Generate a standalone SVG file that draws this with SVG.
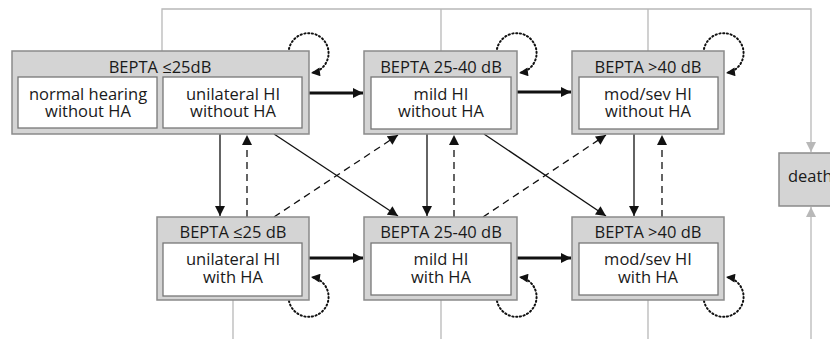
<svg xmlns="http://www.w3.org/2000/svg" width="830" height="339" viewBox="0 0 830 339">
<defs>
<style>
.outer{fill:#d4d4d4;stroke:#8a8a8a;stroke-width:1.5}
.inner{fill:#fff;stroke:#777;stroke-width:1.3}
text{font-family:"Open Sans","Liberation Sans",Arial,sans-serif;font-size:16.5px;fill:#1a1a1a;text-anchor:middle}
.gray{fill:none;stroke:#b8b8b8;stroke-width:1.3}
.solid{fill:none;stroke:#111;stroke-width:1.3}
.dash{fill:none;stroke:#111;stroke-width:1.3;stroke-dasharray:7,5}
.thick{fill:none;stroke:#111;stroke-width:3}
.dot{fill:none;stroke:#111;stroke-width:2;stroke-dasharray:1.2,2.6;stroke-linecap:round}
</style>
<marker id="ah" viewBox="0 0 10 10" refX="10" refY="5" markerWidth="11" markerHeight="10" markerUnits="userSpaceOnUse" orient="auto"><path d="M0,0L10,5L0,10z" fill="#111"/></marker>
<marker id="ahs" viewBox="0 0 10 10" refX="10" refY="5" markerWidth="10" markerHeight="9" markerUnits="userSpaceOnUse" orient="auto"><path d="M0,0L10,5L0,10z" fill="#111"/></marker>
<marker id="ahg" viewBox="0 0 10 10" refX="10" refY="5" markerWidth="11" markerHeight="10" markerUnits="userSpaceOnUse" orient="auto"><path d="M0,0L10,5L0,10z" fill="#b8b8b8"/></marker>
</defs>
<g id="connectors">
<path class="gray" d="M162,51V9H811V152" marker-end="url(#ahg)"/>
<path class="gray" d="M441,9V51M648,9V51"/>
<path class="gray" d="M233,300V339M441,300V339M648,300V339"/>
<path class="gray" d="M811,339V207" marker-end="url(#ahg)"/>
<path class="thick" d="M309,93H363" marker-end="url(#ah)"/>
<path class="thick" d="M517,92H571" marker-end="url(#ah)"/>
<path class="thick" d="M309,258H363" marker-end="url(#ah)"/>
<path class="thick" d="M517,258H571" marker-end="url(#ah)"/>
<path class="solid" d="M220,134V216" marker-end="url(#ah)"/>
<path class="dash" d="M247,217V135" marker-end="url(#ah)"/>
<path class="solid" d="M274,134L398,216" marker-end="url(#ah)"/>
<path class="dash" d="M274,217L398,135" marker-end="url(#ah)"/>
<path class="solid" d="M427,134V216" marker-end="url(#ah)"/>
<path class="dash" d="M454,217V135" marker-end="url(#ah)"/>
<path class="solid" d="M484,134L606,216" marker-end="url(#ah)"/>
<path class="dash" d="M483,217L606,135" marker-end="url(#ah)"/>
<path class="solid" d="M634,134V216" marker-end="url(#ah)"/>
<path class="dash" d="M662,217V135" marker-end="url(#ah)"/>
<path class="dot" d="M289,49A20,20 0 1 1 311,73" marker-end="url(#ahs)"/>
<path class="dot" d="M497,49A20,20 0 1 1 519,73" marker-end="url(#ahs)"/>
<path class="dot" d="M704,49A20,20 0 1 1 726,73" marker-end="url(#ahs)"/>
<path class="dot" d="M289,301A20,20 0 1 0 311,277" marker-end="url(#ahs)"/>
<path class="dot" d="M497,301A20,20 0 1 0 519,277" marker-end="url(#ahs)"/>
<path class="dot" d="M704,301A20,20 0 1 0 726,277" marker-end="url(#ahs)"/>
</g>
<g id="top-left">
<rect class="outer" x="12" y="51" width="297" height="83"/>
<text x="160" y="73">BEPTA ≤25dB</text>
<rect class="inner" x="18" y="77" width="139" height="51"/>
<text x="88" y="100">normal hearing</text>
<text x="88" y="117">without HA</text>
<rect class="inner" x="163" y="77" width="139" height="51"/>
<text x="233" y="100">unilateral HI</text>
<text x="233" y="117">without HA</text>
</g>
<g id="top-middle">
<rect class="outer" x="364" y="51" width="153" height="83"/>
<text x="441" y="73">BEPTA 25-40 dB</text>
<rect class="inner" x="371" y="77" width="140" height="52"/>
<text x="441" y="100">mild HI</text>
<text x="441" y="117">without HA</text>
</g>
<g id="top-right">
<rect class="outer" x="572" y="51" width="152" height="83"/>
<text x="648" y="73">BEPTA &gt;40 dB</text>
<rect class="inner" x="579" y="77" width="139" height="52"/>
<text x="648" y="100">mod/sev HI</text>
<text x="648" y="117">without HA</text>
</g>
<g id="bottom-left">
<rect class="outer" x="157" y="217" width="152" height="83"/>
<text x="233" y="238">BEPTA ≤25 dB</text>
<rect class="inner" x="163" y="243" width="139" height="53"/>
<text x="233" y="265">unilateral HI</text>
<text x="233" y="283">with HA</text>
</g>
<g id="bottom-middle">
<rect class="outer" x="364" y="217" width="153" height="83"/>
<text x="441" y="238">BEPTA 25-40 dB</text>
<rect class="inner" x="371" y="243" width="140" height="52"/>
<text x="441" y="265">mild HI</text>
<text x="441" y="283">with HA</text>
</g>
<g id="bottom-right">
<rect class="outer" x="572" y="217" width="152" height="83"/>
<text x="648" y="238">BEPTA &gt;40 dB</text>
<rect class="inner" x="579" y="243" width="139" height="52"/>
<text x="648" y="265">mod/sev HI</text>
<text x="648" y="283">with HA</text>
</g>
<g id="death">
<rect class="outer" x="779" y="153" width="60" height="53"/>
<text x="788" y="182" style="text-anchor:start">death</text>
</g>
</svg>
